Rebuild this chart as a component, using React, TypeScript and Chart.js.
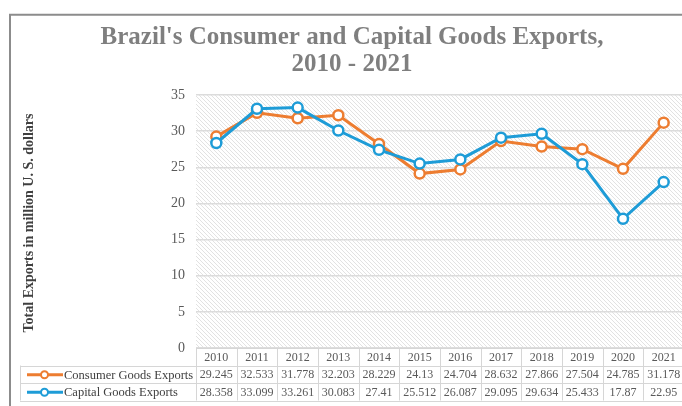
import React, { useEffect, useRef } from "react";
import { Chart, registerables } from "chart.js";

Chart.register(...registerables);

const years = ["2010", "2011", "2012", "2013", "2014", "2015", "2016", "2017", "2018", "2019", "2020", "2021"];
const consumerGoods = [29.245, 32.533, 31.778, 32.203, 28.229, 24.13, 24.704, 28.632, 27.866, 27.504, 24.785, 31.178];
const capitalGoods = [28.358, 33.099, 33.261, 30.083, 27.41, 25.512, 26.087, 29.095, 29.634, 25.433, 17.87, 22.95];
const seriesNames = ["Consumer Goods Exports", "Capital Goods Exports"];
const titleLines = ["Brazil's Consumer and Capital Goods Exports,", "2010 - 2021"];
const yAxisTitle = "Total Exports in million U. S. dollars";

const ORANGE = "#ED7D31";
const BLUE = "#1E9CD7";
const SERIF = '"Times New Roman", "Liberation Serif", serif';

function makePattern(ctx: CanvasRenderingContext2D) {
  const c = document.createElement("canvas");
  c.width = 4;
  c.height = 4;
  const g = c.getContext("2d")!;
  g.fillStyle = "#ffffff";
  g.fillRect(0, 0, 4, 4);
  g.fillStyle = "#e2e2e2";
  for (let i = 0; i < 4; i++) g.fillRect(i, i, 1, 1);
  return ctx.createPattern(c, "repeat");
}

const bgPlugin = {
  id: "bgHatch",
  beforeDraw(chart: any) {
    const { ctx, chartArea } = chart;
    ctx.save();
    ctx.fillStyle = "#ffffff";
    ctx.fillRect(0, 0, chart.width, chart.height);
    const p = makePattern(ctx);
    if (p) {
      ctx.fillStyle = p;
      ctx.fillRect(chartArea.left, chartArea.top, chartArea.right - chartArea.left, chartArea.bottom - chartArea.top);
    }
    ctx.restore();
  },
};

const overlayPlugin = {
  id: "overlay",
  afterDraw(chart: any) {
    const { ctx, chartArea } = chart;
    const xs = chart.scales.x;
    ctx.save();

    // frame
    ctx.strokeStyle = "#8c8c8c";
    ctx.lineWidth = 2;
    ctx.beginPath();
    ctx.moveTo(2, 398);
    ctx.lineTo(2, 6.8);
    ctx.lineTo(chart.width, 6.8);
    ctx.stroke();

    // title
    ctx.fillStyle = "#7f7f7f";
    ctx.font = `bold 25px ${SERIF}`;
    ctx.textAlign = "center";
    ctx.textBaseline = "alphabetic";
    ctx.fillText(titleLines[0], 344, 36);
    ctx.fillText(titleLines[1], 344, 63);

    // y axis title
    ctx.save();
    ctx.translate(21, 215);
    ctx.rotate(-Math.PI / 2);
    ctx.fillStyle = "#404040";
    ctx.font = `bold 14px ${SERIF}`;
    ctx.textBaseline = "middle";
    ctx.fillText(yAxisTitle, 0, 0);
    ctx.restore();

    // data table
    const n = years.length;
    const step = (chartArea.right - chartArea.left) / n;
    const top = chartArea.bottom;
    const rowH = 17.5;
    const labelLeft = 12;
    ctx.strokeStyle = "#d6d6d6";
    ctx.lineWidth = 1;
    ctx.beginPath();
    ctx.moveTo(chartArea.left, top + 0.5);
    ctx.lineTo(chart.width, top + 0.5);
    for (let r = 1; r <= 3; r++) {
      const y = Math.round(top + r * rowH) + 0.5;
      ctx.moveTo(labelLeft, y);
      ctx.lineTo(chart.width, y);
    }
    ctx.moveTo(labelLeft + 0.5, top + rowH);
    ctx.lineTo(labelLeft + 0.5, top + 3 * rowH);
    for (let i = 0; i <= n; i++) {
      const x = Math.round(chartArea.left + i * step) + 0.5;
      ctx.moveTo(x, top);
      ctx.lineTo(x, top + 3 * rowH);
    }
    ctx.stroke();

    ctx.textBaseline = "middle";
    ctx.textAlign = "center";
    ctx.font = `12px ${SERIF}`;
    ctx.fillStyle = "#595959";
    years.forEach((yr, i) => {
      const cx = xs.getPixelForValue(i);
      ctx.fillText(yr, cx, top + rowH / 2 + 1);
      ctx.fillText(String(consumerGoods[i]), cx, top + rowH * 1.5 + 1);
      ctx.fillText(String(capitalGoods[i]), cx, top + rowH * 2.5 + 1);
    });

    const colors = [ORANGE, BLUE];
    seriesNames.forEach((name, r) => {
      const cy = top + rowH * (1.5 + r) + 0.5;
      ctx.strokeStyle = colors[r];
      ctx.lineWidth = 3;
      ctx.beginPath();
      ctx.moveTo(19, cy);
      ctx.lineTo(55, cy);
      ctx.stroke();
      ctx.beginPath();
      ctx.arc(36.5, cy, 3.5, 0, Math.PI * 2);
      ctx.fillStyle = "#ffffff";
      ctx.fill();
      ctx.lineWidth = 2;
      ctx.stroke();
      ctx.fillStyle = "#404040";
      ctx.font = `12.5px ${SERIF}`;
      ctx.textAlign = "left";
      ctx.fillText(name, 56, cy + 0.5);
    });

    ctx.restore();
  },
};

export default function App() {
  const ref = useRef<HTMLCanvasElement>(null);
  useEffect(() => {
    document.body.style.marginRight = "0px";
    document.body.style.marginBottom = "0px";
    if (!ref.current) return;
    const chart = new Chart(ref.current, {
      type: "line",
      data: {
        labels: years,
        datasets: [
          {
            label: seriesNames[0],
            data: consumerGoods,
            borderColor: ORANGE,
            backgroundColor: "#ffffff",
            pointBackgroundColor: "#ffffff",
            pointBorderColor: ORANGE,
            borderWidth: 3,
            pointRadius: 5,
            pointBorderWidth: 2.5,
            tension: 0,
            order: 1,
          },
          {
            label: seriesNames[1],
            data: capitalGoods,
            borderColor: BLUE,
            backgroundColor: "#ffffff",
            pointBackgroundColor: "#ffffff",
            pointBorderColor: BLUE,
            borderWidth: 3,
            pointRadius: 5,
            pointBorderWidth: 2.5,
            tension: 0,
            order: 0,
          },
        ],
      },
      options: {
        responsive: false,
        animation: false,
        devicePixelRatio: 1,
        layout: { padding: { left: 0, top: 87, right: 24, bottom: 58 } },
        plugins: { legend: { display: false }, title: { display: false }, tooltip: { enabled: false } },
        scales: {
          x: { display: false, offset: true },
          y: {
            min: 0,
            max: 35,
            ticks: { stepSize: 5, padding: 11, color: "#595959", font: { family: SERIF, size: 14 } },
            grid: { color: "#dcdcdc", lineWidth: 1.5, drawTicks: false },
            border: { display: false },
            afterFit: (s: any) => {
              s.width = 188;
            },
          },
        },
      },
      plugins: [bgPlugin, overlayPlugin],
    } as any);
    return () => chart.destroy();
  }, []);
  return (
    <div style={{ width: 674, height: 398, overflow: "hidden", position: "relative" }}>
      <canvas ref={ref} width={700} height={398} style={{ display: "block", width: 700, height: 398 }} />
    </div>
  );
}
